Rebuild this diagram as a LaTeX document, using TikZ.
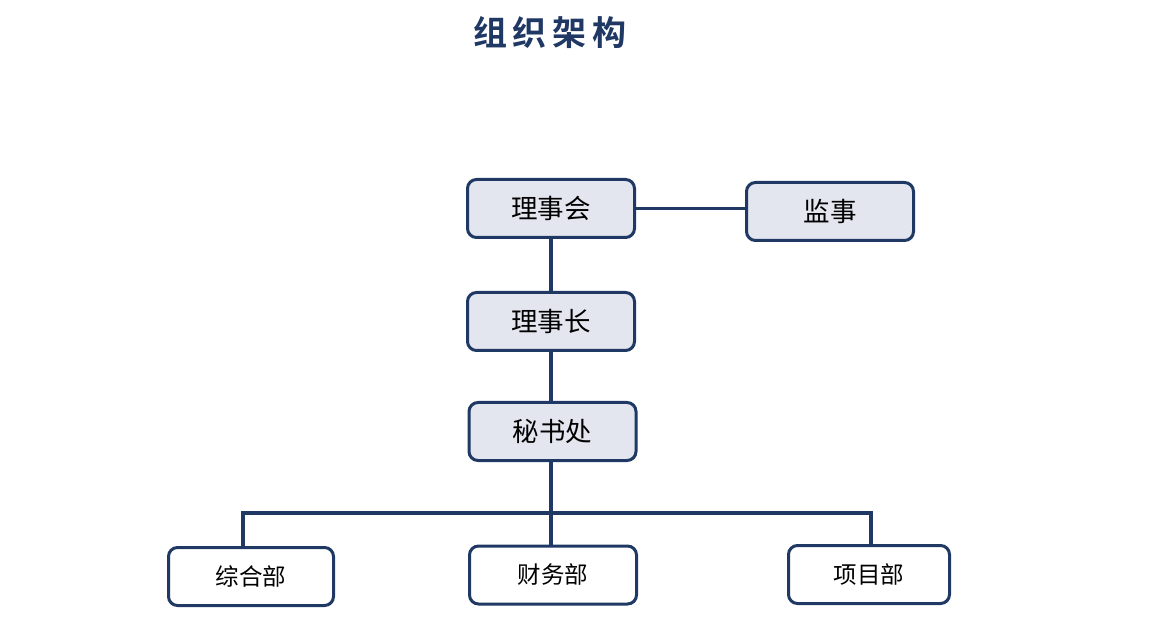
\documentclass[tikz,border=0pt]{standalone}
\usepackage{fontspec}
\newfontfamily\cjk{Noto Sans CJK SC}
\newfontfamily\cjkb{Noto Sans CJK SC Bold}
\definecolor{navy}{HTML}{203864}
\definecolor{boxfill}{HTML}{E3E6EE}
\begin{document}
\begin{tikzpicture}[x=1pt,y=1pt,
  box/.style={draw=navy,line width=3pt,rounded corners=9pt,inner sep=0pt,text=black},
  topbox/.style={box,fill=boxfill,minimum width=167pt,minimum height=58pt,font=\cjk\fontsize{26.5}{30}\selectfont},
  lowbox/.style={box,fill=white,minimum height=58pt,font=\cjk\fontsize{23.5}{27}\selectfont},
  link/.style={draw=navy,line width=3.5pt}]
\useasboundingbox (0,0) rectangle (1173,638);
\node[font=\cjkb\fontsize{34}{38}\selectfont,text=navy] (title) at (550,605)
  {组\hspace{6pt}织\hspace{6pt}架\hspace{6pt}构};
\node[topbox] (lsh) at (551,429.5) {理事会};
\node[topbox] (js) at (830,426.5) {监事};
\node[topbox] (lsz) at (551,316.5) {理事长};
\node[topbox] (msc) at (552.5,206.5) {秘书处};
\node[lowbox,minimum width=165pt] (zh) at (251,61.5) {综合部};
\node[lowbox,minimum width=167pt] (cw) at (553,63) {财务部};
\node[lowbox,minimum width=161pt] (xm) at (869,63.5) {项目部};
\coordinate (bus) at (551,125);
\coordinate (busL) at (243,125);
\coordinate (busR) at (871,125);
\path[link] (lsh.east) -- (lsh.east -| js.west);
\path[link] (lsh.south -| 551,0) -- (lsz.north -| 551,0);
\path[link] (lsz.south -| 551,0) -- (msc.north -| 551,0);
\path[link] (msc.south -| 551,0) -- (bus);
\path[link] (busL |- zh.north) -- (busL) -- (busR) -- (busR |- xm.north);
\path[link] (bus) -- (bus |- cw.north);
\end{tikzpicture}
\end{document}
